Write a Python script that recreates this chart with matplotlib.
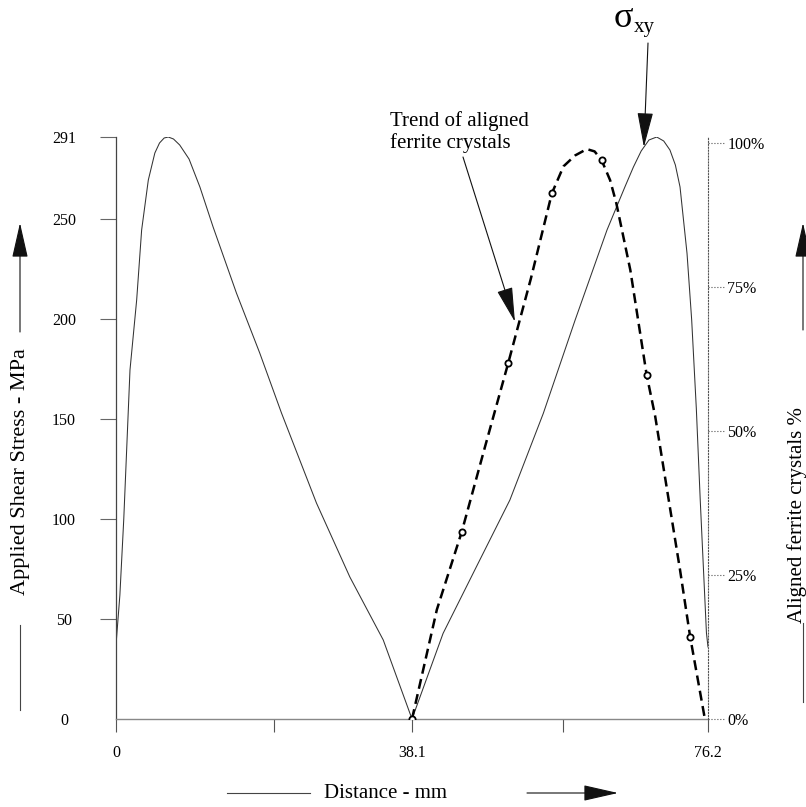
import matplotlib.pyplot as plt
from matplotlib import transforms

plt.rcParams['font.family'] = ['Liberation Serif', 'DejaVu Serif']

# applied shear stress along the specimen
dist_mm = [0, 0.5, 1.0, 1.8, 2.66, 3.3, 4.16, 5.0, 5.6, 6.2, 6.73, 7.4, 8.2, 9.4,
           10.8, 12.5, 15.5, 18.5, 21.3, 25.8, 30.1, 34.4, 38.1, 42.1, 46.4, 50.7,
           55.0, 59.1, 63.2, 65.5, 66.6, 67.6, 68.6, 69.6, 70.5, 71.3, 72.0, 72.6,
           73.5, 74.1, 74.7, 75.2, 76.0, 76.2]
shear_mpa = [37, 62, 100, 174.5, 209.5, 244.5, 269.5, 283, 288, 290.5, 291, 290,
             287, 280, 266, 246, 213, 183, 153, 108, 71, 39.5, 0, 42.8, 76.2, 109.5,
             152.8, 199.5, 244.5, 266, 276, 284, 289.5, 291, 289, 284.5, 277, 266,
             232.8, 199.5, 155, 109.5, 43, 36]

# trend of aligned ferrite crystals (%)
trend_x = [38.1, 41.3, 44.5, 47.5, 50.5, 53.4, 56.1, 57.6, 59.1, 60.6,
           61.6, 62.5, 63.6, 64.4, 66.2, 68.3, 69.4, 72.6, 73.9, 75.8]
trend_pct = [0, 19.0, 32.5, 47.3, 61.9, 76.5, 91.3, 96.0, 97.9, 99.0,
             98.6, 97.1, 93.6, 89.6, 78.0, 59.8, 52.6, 25.9, 14.3, 0]
meas_x = [38.1, 44.5, 50.5, 56.1, 62.5, 68.3, 73.9]
meas_pct = [0, 32.5, 61.9, 91.3, 97.1, 59.8, 14.3]

stress_ticks = [0, 50, 100, 150, 200, 250, 291]
pct_ticks = [0, 25, 50, 75, 100]
pct_labels = ['0%', '25%', '50%', '75%', '100%']

W, H = 806, 807


def fx(px):
    return px / W


def fy(py):
    return 1 - py / H


fig = plt.figure(figsize=(W / 100, H / 100), dpi=100)
ax = fig.add_axes([fx(116), fy(719), 592 / W, 582 / H])
ax2 = ax.twinx()

ax.plot(dist_mm, shear_mpa, color='#333333', lw=0.75)
ax.set_xlim(0, 76.2)
ax.set_ylim(0, 291)

ax2.plot(trend_x, trend_pct, color='black', lw=1.8, ls=(0, (4, 2.2)))
ax2.plot(meas_x, meas_pct, ls='none', marker='o', ms=4.5, mfc='white',
         mec='black', mew=1.3)
ax2.set_ylim(0, 101.1)

# spines
for s in ['top', 'right']:
    ax.spines[s].set_visible(False)
for s in ['top', 'left', 'bottom']:
    ax2.spines[s].set_visible(False)
ax.spines['left'].set_color('#444444')
ax.spines['left'].set_linewidth(0.9)
ax.spines['bottom'].set_color('#888888')
ax.spines['bottom'].set_linewidth(1.0)
ax2.spines['right'].set_linestyle(':')
ax2.spines['right'].set_color('#555555')
ax2.spines['right'].set_linewidth(0.8)

# left axis ticks
ax.set_yticks(stress_ticks)
ax.tick_params(axis='y', direction='out', length=11.5, width=0.8,
               color='#666666', pad=26, labelsize=11.5)
for lab in ax.get_yticklabels():
    lab.set_horizontalalignment('center')
ax.yaxis.get_major_ticks()[0].tick1line.set_visible(False)

# bottom ticks
ax.set_xticks([0, 38.1, 76.2], labels=['0', '38.1', '76.2'])
ax.set_xticks([20.3, 57.5], minor=True)
ax.tick_params(axis='x', which='both', direction='out', length=9.4, width=0.8,
               color='#555555', pad=9, labelsize=11.5)

# right axis ticks (dotted)
ax2.set_yticks(pct_ticks, labels=pct_labels)
ax2.tick_params(axis='y', length=0, pad=14, labelsize=11.5)
trans = transforms.blended_transform_factory(ax2.transAxes, ax2.transData)
for t in pct_ticks:
    ax2.plot([1.0, 1.0 + 16 / 592], [t, t], transform=trans, ls=':',
             color='#555555', lw=0.8, clip_on=False)

# axis labels with arrows
fig.text(fx(21), fy(472), 'Applied Shear Stress - MPa', rotation=90,
         ha='center', va='center', fontsize=16)
fig.text(fx(797), fy(515), 'Aligned ferrite crystals %', rotation=90,
         ha='center', va='center', fontsize=15)
fig.text(fx(386), fy(793), 'Distance - mm', ha='center', va='center', fontsize=15)

arrow = dict(arrowstyle='-|>,head_length=2.2,head_width=0.5', color='#111111',
             lw=0.8, mutation_scale=10, shrinkA=0, shrinkB=0)

fig.add_artist(plt.Line2D([fx(20), fx(20)], [fy(625), fy(710)], color='#444444', lw=0.8))
ax.annotate('', xy=(fx(20), fy(223)), xytext=(fx(20), fy(332)),
            xycoords='figure fraction', textcoords='figure fraction', arrowprops=arrow)
fig.add_artist(plt.Line2D([fx(803), fx(803)], [fy(623), fy(702)], color='#444444', lw=0.8))
ax.annotate('', xy=(fx(803), fy(223)), xytext=(fx(803), fy(330)),
            xycoords='figure fraction', textcoords='figure fraction', arrowprops=arrow)
fig.add_artist(plt.Line2D([fx(227), fx(310)], [fy(793), fy(793)], color='#444444', lw=0.8))
ax.annotate('', xy=(fx(618), fy(793)), xytext=(fx(527), fy(793)),
            xycoords='figure fraction', textcoords='figure fraction', arrowprops=arrow)

# callouts
fig.text(fx(390), fy(148), 'Trend of aligned\nferrite crystals', ha='left',
         va='baseline', fontsize=15, linespacing=1.15)
ax2.annotate('', xy=(51.35, 69), xycoords='data',
             xytext=(fx(463), fy(157)), textcoords='figure fraction', arrowprops=arrow)
fig.text(fx(614), fy(27), 'σ', ha='left', va='baseline', fontsize=26)
fig.text(fx(634), fy(32), 'xy', ha='left', va='baseline', fontsize=15)
ax.annotate('', xy=(67.95, 286), xycoords='data',
            xytext=(fx(648), fy(43)), textcoords='figure fraction', arrowprops=arrow)

plt.savefig('out.png', dpi=100)
